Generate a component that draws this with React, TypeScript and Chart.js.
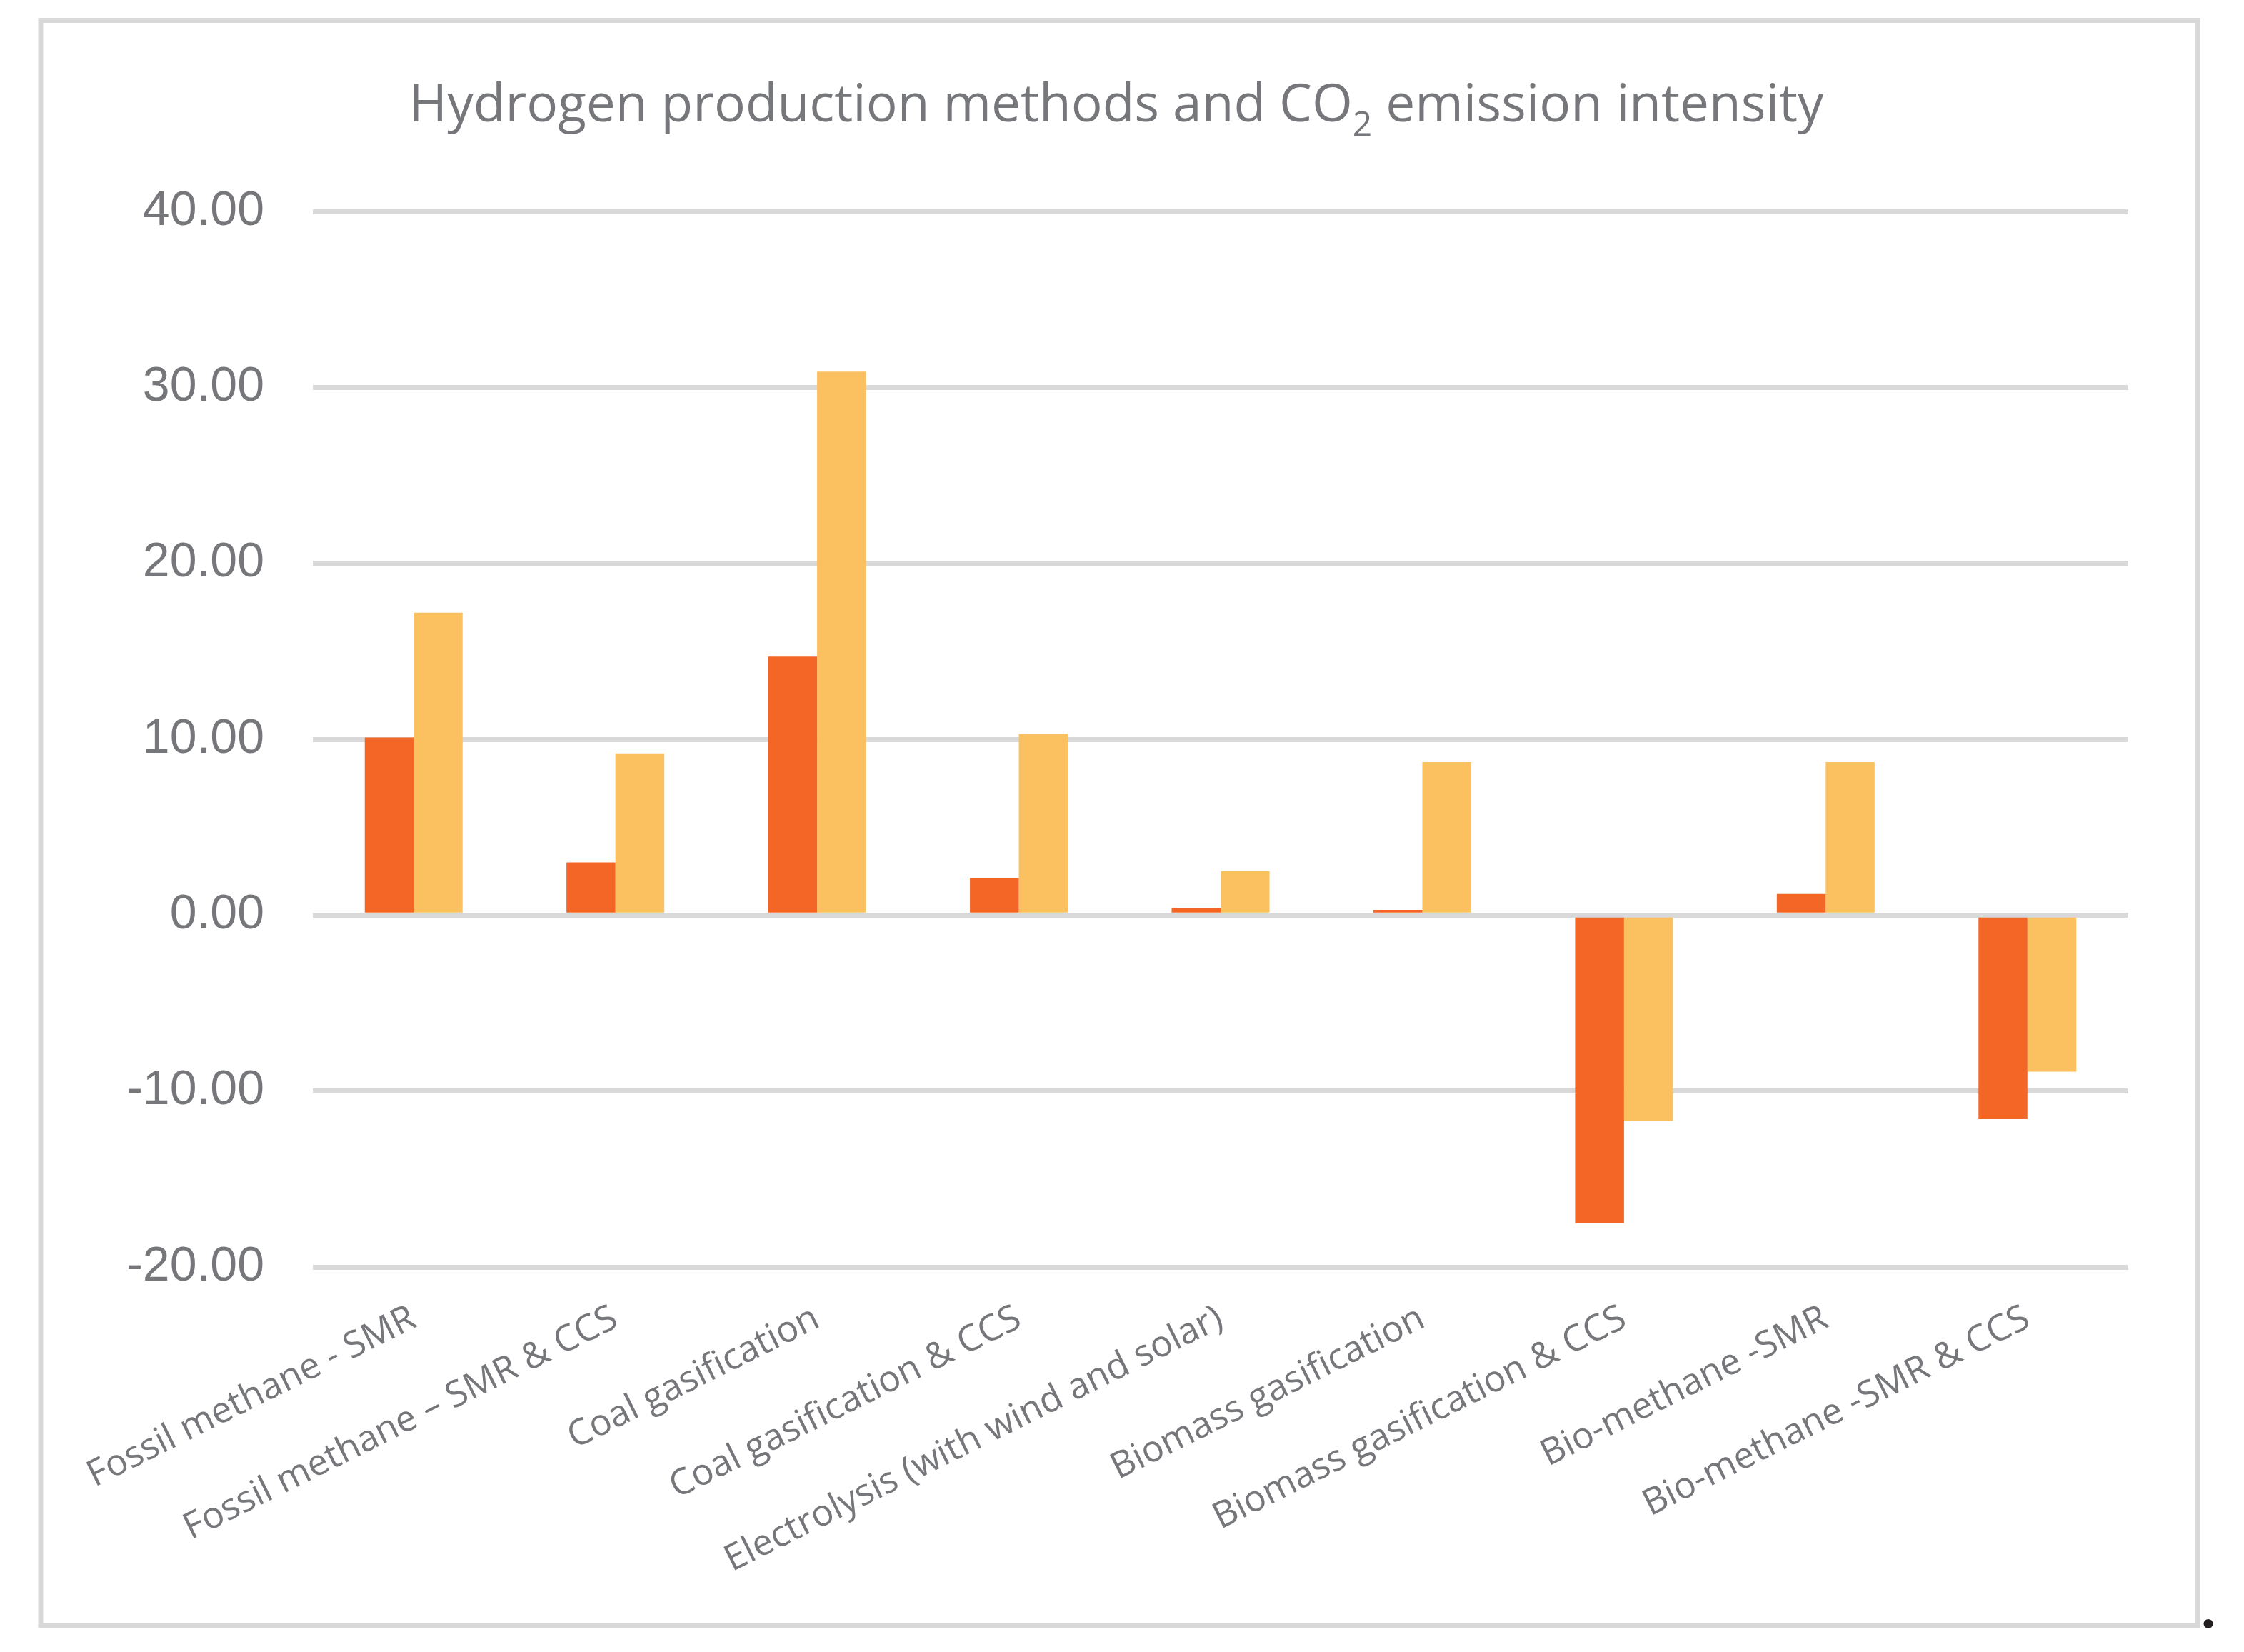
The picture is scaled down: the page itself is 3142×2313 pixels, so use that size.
import React, { useEffect, useRef } from "react";
import { Chart, registerables } from "chart.js";

Chart.register(...registerables);

const categories = [
  "Fossil methane - SMR",
  "Fossil methane – SMR & CCS",
  "Coal gasification",
  "Coal gasification & CCS",
  "Electrolysis (with wind and solar)",
  "Biomass gasification",
  "Biomass gasification & CCS",
  "Bio-methane -SMR",
  "Bio-methane -SMR & CCS",
];

const series1 = [10.1, 3.0, 14.7, 2.1, 0.4, 0.3, -17.5, 1.2, -11.6];
const series2 = [17.2, 9.2, 30.9, 10.3, 2.5, 8.7, -11.7, 8.7, -8.9];

const titleParts = ["Hydrogen production methods and CO", "2", " emission intensity"];

const yMin = -20;
const yMax = 40;
const yStep = 10;

const W = 3142;
const H = 2313;
const TEXT = "#76777a";

const framePlugin = {
  id: "frame",
  beforeDraw(chart: any) {
    const ctx = chart.ctx;
    ctx.save();
    ctx.fillStyle = "#ffffff";
    ctx.fillRect(0, 0, chart.width, chart.height);
    ctx.strokeStyle = "#d9d9d9";
    ctx.lineWidth = 7;
    ctx.strokeRect(57, 28.5, 3020.5, 2247);
    ctx.restore();
  },
  afterDraw(chart: any) {
    const ctx = chart.ctx;
    ctx.save();
    ctx.fillStyle = TEXT;
    ctx.textBaseline = "alphabetic";
    ctx.textAlign = "left";
    const big = "73px 'Open Sans'";
    const small = "48px 'Open Sans'";
    ctx.font = big;
    const w0 = ctx.measureText(titleParts[0]).width;
    const w2 = ctx.measureText(titleParts[2]).width;
    ctx.font = small;
    const w1 = ctx.measureText(titleParts[1]).width;
    const total = w0 + w1 + w2;
    let x = 1563 - total / 2;
    const base = 170;
    ctx.font = big;
    ctx.fillText(titleParts[0], x, base);
    x += w0;
    ctx.font = small;
    ctx.fillText(titleParts[1], x, base + 20);
    x += w1;
    ctx.font = big;
    ctx.fillText(titleParts[2], x, base);
    ctx.restore();
  },
};

export default function App() {
  const ref = useRef<HTMLCanvasElement | null>(null);

  useEffect(() => {
    if (!ref.current) return;
    const chart = new Chart(ref.current, {
      type: "bar",
      data: {
        labels: categories,
        datasets: [
          {
            label: "Series1",
            data: series1,
            backgroundColor: "#f36626",
            borderWidth: 0,
            barPercentage: 1,
            categoryPercentage: 0.485,
          },
          {
            label: "Series2",
            data: series2,
            backgroundColor: "#fbc060",
            borderWidth: 0,
            barPercentage: 1,
            categoryPercentage: 0.485,
          },
        ],
      },
      options: {
        responsive: false,
        animation: false,
        devicePixelRatio: 1,
        layout: { padding: { left: 0, right: 162, top: 296, bottom: 0 } },
        plugins: {
          legend: { display: false },
          tooltip: { enabled: false },
          title: { display: false },
        },
        scales: {
          x: {
            grid: { display: false },
            border: { display: false },
            ticks: {
              autoSkip: false,
              minRotation: 26.5,
              maxRotation: 26.5,
              color: TEXT,
              font: { family: "'Open Sans'", size: 51 },
              padding: 34,
            },
            afterFit(scale: any) {
              scale.height = H - 1774;
            },
          },
          y: {
            min: yMin,
            max: yMax,
            border: { display: false },
            grid: { color: "#d9d9d9", lineWidth: 7, drawTicks: false },
            ticks: {
              stepSize: yStep,
              padding: 68,
              color: TEXT,
              font: { family: "'Liberation Sans'", size: 68 },
              callback: (v: any) => Number(v).toFixed(2),
            },
            afterFit(scale: any) {
              scale.width = 438;
            },
          },
        },
      },
      plugins: [framePlugin],
    });
    return () => chart.destroy();
  }, []);

  return (
    <div style={{ position: "absolute", left: 0, top: 0, width: W, height: H, background: "#fff" }}>
      <canvas ref={ref} width={W} height={H} style={{ width: W, height: H, display: "block" }} />
      <span
        style={{
          position: "absolute",
          left: 3082,
          top: 2212,
          fontFamily: "'Liberation Serif'",
          fontSize: 80,
          fontWeight: "bold",
          color: "#231f20",
          lineHeight: "80px",
        }}
      >
        .
      </span>
    </div>
  );
}
